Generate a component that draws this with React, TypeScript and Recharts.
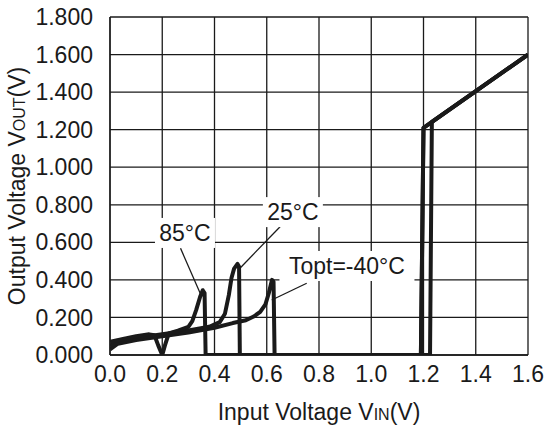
import React from "react";
import { LineChart, Line, XAxis, YAxis, CartesianGrid, ReferenceLine, ReferenceDot, Label } from "recharts";

const xTicks = [0, 0.2, 0.4, 0.6, 0.8, 1.0, 1.2, 1.4, 1.6];
const yTicks = [0, 0.2, 0.4, 0.6, 0.8, 1.0, 1.2, 1.4, 1.6, 1.8];

const curve85: number[][] = [
  [0, 0.07], [0.05, 0.085], [0.1, 0.1], [0.15, 0.11], [0.17, 0.105], [0.185, 0.05], [0.2, 0.0],
  [0.21, 0.05], [0.225, 0.115], [0.26, 0.13], [0.3, 0.15], [0.315, 0.18], [0.33, 0.24],
  [0.345, 0.31], [0.355, 0.345], [0.362, 0.33], [0.366, 0.0], [1.19, 0.0], [1.2, 1.21], [1.6, 1.6],
];
const curve25: number[][] = [
  [0, 0.05], [0.05, 0.075], [0.1, 0.09], [0.2, 0.11], [0.3, 0.13], [0.38, 0.15], [0.42, 0.175],
  [0.44, 0.22], [0.455, 0.32], [0.465, 0.41], [0.475, 0.46], [0.488, 0.485], [0.494, 0.47],
  [0.497, 0.0], [1.19, 0.0], [1.2, 1.21], [1.6, 1.6],
];
const curveM40: number[][] = [
  [0, 0.03], [0.03, 0.06], [0.1, 0.08], [0.2, 0.1], [0.3, 0.12], [0.4, 0.145], [0.47, 0.17],
  [0.52, 0.185], [0.55, 0.205], [0.575, 0.23], [0.595, 0.27], [0.608, 0.33], [0.62, 0.4],
  [0.626, 0.39], [0.63, 0.0], [1.225, 0.0], [1.232, 1.241], [1.6, 1.6],
];

const labelTexts = ["85°C", "25°C", "Topt=-40°C"];
const labelX = [0.287, 0.7, 0.907];
const labelY = [0.65, 0.761, 0.474];
const leaderFrom: number[][] = [[0.27, 0.568], [0.651, 0.683], [0.753, 0.382]];
const leaderTo: number[][] = [[0.351, 0.31], [0.491, 0.453], [0.619, 0.293]];

const toPts = (arr: number[][]) => arr.map(([x, y]) => ({ x, y }));
const FONT = "'Liberation Sans', Arial, sans-serif";
const INK = "#1a1a1a";

const LabelBox = (text: string) => (props: any) => {
  const { cx, cy } = props;
  const w = text.length * 12.5 + 10;
  return (
    <g>
      <rect x={cx - w / 2} y={cy - 15} width={w} height={30} fill="#fff" />
      <text x={cx} y={cy} textAnchor="middle" dominantBaseline="central" fontFamily={FONT} fontSize={23} fill={INK}>
        {text}
      </text>
    </g>
  );
};

export default function App() {
  return (
    <div style={{ position: "absolute", left: 0, top: 0, background: "#fff" }}>
      <LineChart width={547} height={432} margin={{ top: 17, right: 19, left: 0, bottom: 0 }}>
        <CartesianGrid stroke={INK} strokeWidth={1.3} horizontalValues={yTicks} verticalValues={xTicks} />
        <XAxis
          type="number"
          dataKey="x"
          domain={[0, 1.6]}
          ticks={xTicks}
          tickFormatter={(v: number) => v.toFixed(1)}
          axisLine={{ stroke: INK, strokeWidth: 1.3 }}
          tickLine={false}
          tickSize={6}
          tickMargin={5}
          height={77}
          tick={{ fontFamily: FONT, fontSize: 23, fill: INK }}
          allowDataOverflow
        >
          <Label
            content={(p: any) => {
              const vb = p.viewBox || {};
              const cx = vb.x + vb.width / 2;
              return (
                <text x={cx} y={420} textAnchor="middle" fontFamily={FONT} fontSize={23} fill={INK}>
                  Input Voltage V<tspan fontSize={16}>IN</tspan>(V)
                </text>
              );
            }}
          />
        </XAxis>
        <YAxis
          type="number"
          domain={[0, 1.8]}
          ticks={yTicks}
          tickFormatter={(v: number) => v.toFixed(3)}
          axisLine={{ stroke: INK, strokeWidth: 1.3 }}
          tickLine={false}
          tickSize={6}
          tickMargin={11}
          width={110}
          tick={{ fontFamily: FONT, fontSize: 23, fill: INK }}
          allowDataOverflow
        >
          <Label
            content={(p: any) => {
              const vb = p.viewBox || {};
              const cy = vb.y + vb.height / 2;
              return (
                <text x={25} y={cy} transform={`rotate(-90, 25, ${cy})`} textAnchor="middle" fontFamily={FONT} fontSize={23} fill={INK}>
                  Output Voltage V<tspan fontSize={16}>OUT</tspan>(V)
                </text>
              );
            }}
          />
        </YAxis>
        {leaderFrom.map((f, i) => (
          <ReferenceLine
            key={"l" + i}
            segment={[{ x: f[0], y: f[1] }, { x: leaderTo[i][0], y: leaderTo[i][1] }]}
            stroke={INK}
            strokeWidth={1.3}
          />
        ))}
        <Line data={toPts(curveM40)} dataKey="y" type="linear" stroke={INK} strokeWidth={4} dot={false} isAnimationActive={false} strokeLinejoin="round" />
        <Line data={toPts(curve25)} dataKey="y" type="linear" stroke={INK} strokeWidth={4} dot={false} isAnimationActive={false} strokeLinejoin="round" />
        <Line data={toPts(curve85)} dataKey="y" type="linear" stroke={INK} strokeWidth={4} dot={false} isAnimationActive={false} strokeLinejoin="round" />
        {labelTexts.map((t, i) => (
          <ReferenceDot key={"d" + i} x={labelX[i]} y={labelY[i]} r={0} shape={LabelBox(t)} />
        ))}
      </LineChart>
    </div>
  );
}
